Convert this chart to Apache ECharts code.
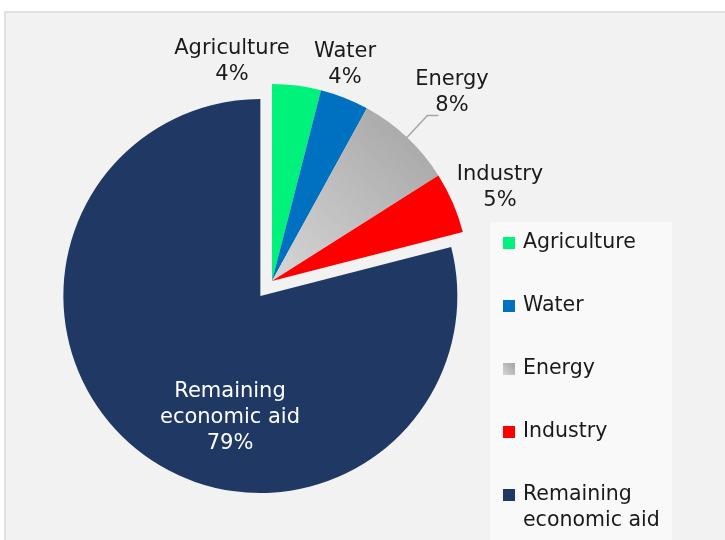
<!DOCTYPE html>
<html><head><meta charset="utf-8">
<script src="https://cdn.jsdelivr.net/npm/echarts@6/dist/echarts.min.js"></script>
<style>html,body{margin:0;padding:0;background:#fff}#c{width:725px;height:540px}</style>
</head><body><div id="c"></div>
<script>
// ---- data ----
const categories = ['Agriculture', 'Water', 'Energy', 'Industry', 'Remaining\neconomic aid'];
const shares = [4, 4, 8, 5, 79];           // percent of economic aid
const explodedCategory = 'Remaining\neconomic aid';

// ---- styles / layout ----
const FONT = 'DejaVu Sans';
const sliceColors = [
  '#00F27A',
  '#0070C0',
  { type: 'linear', x: 1, y: 0, x2: 0, y2: 1, colorStops: [{ offset: 0, color: '#a2a2a2' }, { offset: 1, color: '#d6d6d6' }] },
  '#FF0000',
  '#203864'
];
const PIE_CENTER = [272, 281];
const PIE_RADIUS = 197;
const EXPLODE = 19;
// label centres (text placement only)
const labelCenters = [[232, 62], [345, 65], [452, 93], [500, 188], [230, 418]];
const labelInside = [false, false, false, false, true];
const labelLineShown = [false, false, true, false, false];

const chart = echarts.init(document.getElementById('c'), null, { renderer: 'canvas' });

const total = shares.reduce((a, b) => a + b, 0);
const exIdx = categories.indexOf(explodedCategory);
const before = shares.slice(0, exIdx).reduce((a, b) => a + b, 0);
const midAngle = (before + shares[exIdx] / 2) / total * 2 * Math.PI; // clockwise from 12 o'clock
const exCenter = [PIE_CENTER[0] + EXPLODE * Math.sin(midAngle), PIE_CENTER[1] - EXPLODE * Math.cos(midAngle)];

const hidden = (name, value) => ({
  name, value,
  itemStyle: { color: 'rgba(0,0,0,0)' },
  label: { show: false }, labelLine: { show: false }, emphasis: { disabled: true }
});

function item(i) {
  return {
    name: categories[i],
    value: shares[i],
    itemStyle: { color: sliceColors[i] },
    label: labelInside[i]
      ? { position: 'inside', color: '#ffffff' }
      : { position: 'outside', color: '#1a1a1a' },
    labelLine: { show: labelLineShown[i], length: 30, length2: 11, lineStyle: { color: '#a6a6a6', width: 1.5 } }
  };
}

// main pie: all slices except the exploded one (kept as transparent gap)
const mainData = categories.map((n, i) => i === exIdx ? hidden('_gap_' + i, shares[i]) : item(i));
const mainCat = categories.map((n, i) => i === exIdx ? -1 : i);
// exploded pie: only the exploded slice, offset along its bisector
const exData = [], exCat = [];
if (before > 0) { exData.push(hidden('_gap_a', before)); exCat.push(-1); }
exData.push(item(exIdx)); exCat.push(exIdx);
const after = total - before - shares[exIdx];
if (after > 0) { exData.push(hidden('_gap_b', after)); exCat.push(-1); }
const catMaps = [mainCat, exCat];

const pieCommon = {
  type: 'pie',
  radius: [0, PIE_RADIUS],
  startAngle: 90,
  clockwise: true,
  avoidLabelOverlap: false,
  silent: true,
  label: {
    show: true,
    formatter: '{b}\n{c}%',
    fontFamily: FONT,
    fontSize: 21,
    lineHeight: 26,
    align: 'center'
  },
  labelLayout: function (p) {
    const map = catMaps[p.seriesIndex];
    const idx = map ? map[p.dataIndex] : -1;
    const c = labelCenters[idx];
    if (!c) return;
    return { x: c[0], y: c[1], align: 'center', verticalAlign: 'middle', labelLinePoints: p.labelLinePoints };
  }
};

const SQUARE = 'path://M0,0L12,0L12,12L0,12Z';
const SQUARE_TOP = 'path://M0,0L12,0M0,7L12,7L12,19L0,19ZM0,52L12,52';

chart.setOption({
  animation: false,
  backgroundColor: '#ffffff',
  graphic: [
    { type: 'rect', z: -10, shape: { x: 5, y: 12, width: 740, height: 560 }, style: { fill: '#f2f2f2', stroke: '#d9d9d9', lineWidth: 1.5 } },
    { type: 'rect', z: -9, shape: { x: 490, y: 222, width: 182, height: 330 }, style: { fill: '#f9f9f9' } }
  ],
  legend: {
    orient: 'vertical',
    left: 503,
    top: 230,
    height: 330,
    padding: 0,
    itemWidth: 12,
    itemHeight: 52,
    itemGap: 37,
    selectedMode: false,
    textStyle: { fontFamily: FONT, fontSize: 20.5, lineHeight: 26, color: '#1a1a1a', padding: [0, 0, 0, 3] },
    data: categories.map(name => ({ name, icon: name.indexOf('\n') >= 0 ? SQUARE_TOP : SQUARE }))
  },
  series: [
    Object.assign({}, pieCommon, { center: PIE_CENTER, data: mainData }),
    Object.assign({}, pieCommon, { center: exCenter, data: exData })
  ]
});
</script></body></html>
